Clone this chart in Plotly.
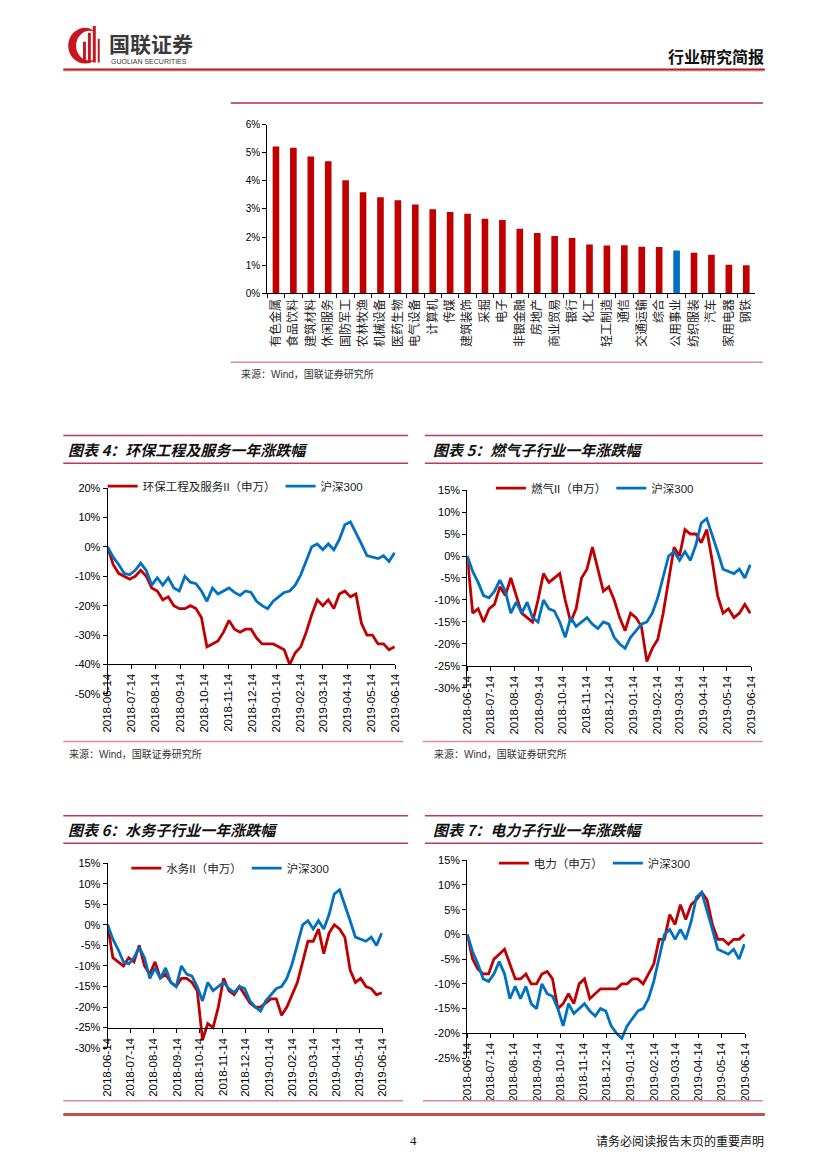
import plotly.graph_objects as go
import pandas as pd

# page is 827x1169; the browser body adds an 8px margin, so the figure is drawn
# 8px smaller and all page positions are shifted by that offset
OFF = 8
W, H = 827 - OFF, 1169 - OFF
def X(p): return (p - OFF) / W
def Y(p): return 1 - (p - OFF) / H

# ---------------- data ----------------
industries = ["有色金属", "食品饮料", "建筑材料", "休闲服务", "国防军工", "农林牧渔", "机械设备",
              "医药生物", "电气设备", "计算机", "传媒", "建筑装饰", "采掘", "电子", "非银金融",
              "房地产", "商业贸易", "银行", "化工", "轻工制造", "通信", "交通运输", "综合",
              "公用事业", "纺织服装", "汽车", "家用电器", "钢铁"]
industry_returns = [5.23, 5.18, 4.87, 4.70, 4.02, 3.60, 3.42, 3.31, 3.16, 2.99, 2.89, 2.83, 2.65,
                    2.61, 2.29, 2.14, 2.04, 1.96, 1.73, 1.70, 1.71, 1.65, 1.64, 1.52, 1.44, 1.37,
                    1.01, 0.99]
highlight = "公用事业"
bar_ticks = [0, 1, 2, 3, 4, 5, 6]

dates = pd.date_range("2018-06-14", periods=53, freq="7D")
month_ticks = ["2018-06-14", "2018-07-14", "2018-08-14", "2018-09-14", "2018-10-14",
               "2018-11-14", "2018-12-14", "2019-01-14", "2019-02-14", "2019-03-14",
               "2019-04-14", "2019-05-14", "2019-06-14"]

hs300 = [0, -3.5, -6, -9, -9.5, -8, -5.5, -8, -13, -10.5,
         -13, -10.5, -14, -15, -10, -12, -12.5, -15, -18.5, -14,
         -16, -15, -14, -15.5, -16.5, -15, -15.5, -18.5, -20, -21,
         -18.5, -17, -15.5, -15, -13, -9.5, -4.5, 0, 1, -1,
         1, -1, 2.5, 7.5, 8.5, 5, 1, -3, -3.5, -4,
         -3, -5, -2]
env_service = [0, -6, -9, -10, -11, -10, -8, -10, -14, -15,
               -18, -17, -20, -21, -21, -20, -21, -24, -34, -33,
               -32, -29, -25, -28, -29, -28, -28, -31, -33, -33,
               -33, -34, -35, -40, -36, -34, -29, -23, -18, -20,
               -18, -21, -16, -15, -17, -16, -26, -30, -30, -33,
               -33, -35, -34]
gas = [0, -13, -12, -15, -12, -11, -7, -9, -5, -9,
       -13, -14, -15, -10, -4, -6, -5, -4, -10, -15,
       -12, -5, -3, 2, -3, -8, -7, -10, -14, -17,
       -13, -14, -16, -24, -21, -19, -13, -5, 2, 0,
       6, 5, 5, 3, 6, -1, -9, -13, -12, -14,
       -13, -11, -13]
water = [0, -8, -9, -10, -8, -9, -5, -10, -12, -9,
         -13, -12, -14, -15, -13, -13, -14, -16, -28, -24,
         -25, -20, -13, -16, -17, -15, -17, -19, -20, -20,
         -19, -18, -18, -22, -20, -17, -14, -9, -4, -4,
         -1, -7, -2, 0, -1, -3, -11, -14, -13, -15,
         -15.5, -17, -16.5]
power = [0, -5, -7, -8, -8, -5, -4, -3, -6, -9,
         -9, -8, -10, -10, -8, -7.5, -9, -15, -14, -12,
         -14, -10, -9, -13, -12, -11, -11, -11, -11, -10,
         -10, -9, -9, -10, -8, -6, -1, -1, 4, 2,
         6, 3, 6, 7, 8.5, 7, 2, -1, -1, -2,
         -1, -1, 0]

panels = [
    ("图表 4：环保工程及服务一年涨跌幅", "环保工程及服务II（申万）", env_service, [-50, -40, -30, -20, -10, 0, 10, 20]),
    ("图表 5：燃气子行业一年涨跌幅", "燃气II（申万）", gas, [-30, -25, -20, -15, -10, -5, 0, 5, 10, 15]),
    ("图表 6：水务子行业一年涨跌幅", "水务II（申万）", water, [-30, -25, -20, -15, -10, -5, 0, 5, 10, 15]),
    ("图表 7：电力子行业一年涨跌幅", "电力（申万）", power, [-25, -20, -15, -10, -5, 0, 5, 10, 15]),
]
hs_name = "沪深300"

# ---------------- styles / geometry ----------------
RED = "#C00000"
BLUE = "#0070C0"
FONT = "Liberation Sans, Arial, Noto Sans CJK SC"
CJK = "Noto Sans CJK SC"
TITLE_LINE = "#B83B5E"
SRC_LINE = "#D98A9C"

geo = [
    dict(x0=103, x1=395, yt=487, yb=695, cross=665, lx=98, ly=485),
    dict(x0=468, x1=756, yt=489, yb=689, cross=667, lx=492, ly=487),
    dict(x0=103, x1=382, yt=866, yb=1053, cross=1033, lx=122, ly=871),
    dict(x0=468, x1=750, yt=863, yb=1063, cross=1038, lx=495, ly=866),
]
title_geo = [
    dict(x0=58, x1=408, ytop=434, ybot=462, tx=61),
    dict(x0=425, x1=768, ytop=434, ybot=462, tx=431),
    dict(x0=58, x1=408, ytop=818, ybot=846, tx=61),
    dict(x0=425, x1=768, ytop=818, ybot=846, tx=431),
]

fig = go.Figure()

# ---------------- bar chart ----------------
bar_colors = [BLUE if n == highlight else RED for n in industries]
fig.add_trace(go.Bar(x=industries, y=industry_returns, marker_color=bar_colors,
                     marker_line_width=0, xaxis="x", yaxis="y", showlegend=False))

layout = dict(
    width=W, height=H, autosize=False,
    margin=dict(l=0, r=0, t=0, b=0),
    paper_bgcolor="white", plot_bgcolor="rgba(0,0,0,0)",
    bargap=0.62,
    font=dict(family=FONT, color="black", size=11),
    xaxis=dict(domain=[X(265), X(760)], anchor="y", type="category",
               tickmode="array", tickvals=industries, ticktext=industries,
               tickangle=-90, tickfont=dict(family=CJK, size=12, color="#222"),
               showline=True, linecolor="black", linewidth=1,
               ticks="outside", ticklen=4, tickcolor="black", tickson="boundaries",
               showgrid=False, fixedrange=True),
    yaxis=dict(domain=[Y(290), Y(120)], anchor="x", range=[0, 6],
               tickmode="array", tickvals=bar_ticks, ticktext=[f"{v}%" for v in bar_ticks],
               tickfont=dict(size=10), showline=True, linecolor="black", linewidth=1,
               ticks="outside", ticklen=4, tickcolor="black",
               showgrid=False, zeroline=False),
)

annotations = []
shapes = []

for i, ((title, name, vals, yt), g, tg) in enumerate(zip(panels, geo, title_geo)):
    n = i + 2
    xa, ya = f"x{n}", f"y{n}"
    leg = "legend" if i == 0 else f"legend{i + 1}"
    fig.add_trace(go.Scatter(x=dates, y=vals, mode="lines", name=name,
                             line=dict(color=RED, width=2.8),
                             xaxis=xa, yaxis=ya, legend=leg))
    fig.add_trace(go.Scatter(x=dates, y=hs300, mode="lines", name=hs_name,
                             line=dict(color=BLUE, width=2.8),
                             xaxis=xa, yaxis=ya, legend=leg))
    layout[f"xaxis{n}"] = dict(
        domain=[X(g["x0"]), X(g["x1"])], anchor="free", position=Y(g["cross"]),
        type="date", range=[month_ticks[0], month_ticks[-1]],
        tickmode="array", tickvals=month_ticks, ticktext=month_ticks,
        tickangle=-90, tickfont=dict(size=11.5),
        showline=True, linecolor="black", linewidth=1,
        ticks="outside", ticklen=4, tickcolor="black", showgrid=False, zeroline=False)
    layout[f"yaxis{n}"] = dict(
        domain=[Y(g["yb"]), Y(g["yt"])], anchor=xa, range=[yt[0], yt[-1]],
        tickmode="array", tickvals=yt, ticktext=[f"{v}%" for v in yt],
        tickfont=dict(size=11), showline=True, linecolor="black", linewidth=1,
        ticks="outside", ticklen=4, tickcolor="black", showgrid=False, zeroline=False)
    layout[leg] = dict(orientation="h", x=X(g["lx"]), y=Y(g["ly"]),
                       xanchor="left", yanchor="middle", bgcolor="rgba(0,0,0,0)",
                       font=dict(family=FONT, size=11.5, color="#222"),
                       itemwidth=30, tracegroupgap=0)
    shapes.append(dict(type="line", xref="paper", yref="paper",
                       x0=X(tg["x0"]), x1=X(tg["x1"]), y0=Y(tg["ytop"]), y1=Y(tg["ytop"]),
                       line=dict(color=TITLE_LINE, width=1.5)))
    shapes.append(dict(type="line", xref="paper", yref="paper",
                       x0=X(tg["x0"]), x1=X(tg["x1"]), y0=Y(tg["ybot"]), y1=Y(tg["ybot"]),
                       line=dict(color=TITLE_LINE, width=1.5)))
    annotations.append(dict(text=f"<b><i>{title}</i></b>", xref="paper", yref="paper",
                            x=X(tg["tx"]), y=Y((tg["ytop"] + tg["ybot"]) / 2),
                            xanchor="left", yanchor="middle", showarrow=False,
                            font=dict(family=CJK, size=15, color="#111")))

src = "来源：Wind，国联证券研究所"
for (x0, x1, yl, tx, ty) in [(228, 768, 360, 236, 372), (58, 403, 743, 62, 756),
                             (423, 768, 743, 432, 756)]:
    shapes.append(dict(type="line", xref="paper", yref="paper", x0=X(x0), x1=X(x1),
                       y0=Y(yl), y1=Y(yl), line=dict(color=SRC_LINE, width=1.5)))
    annotations.append(dict(text=src, xref="paper", yref="paper", x=X(tx), y=Y(ty),
                            xanchor="left", yanchor="middle", showarrow=False,
                            font=dict(family=FONT, size=10, color="#333")))
for (x0, x1) in [(58, 403), (423, 768)]:
    shapes.append(dict(type="line", xref="paper", yref="paper", x0=X(x0), x1=X(x1),
                       y0=Y(1106), y1=Y(1106), line=dict(color=SRC_LINE, width=1.5)))

shapes.append(dict(type="line", xref="paper", yref="paper", x0=X(228), x1=X(768),
                   y0=Y(98), y1=Y(98), line=dict(color="#B5284A", width=1.5)))

shapes.append(dict(type="line", xref="paper", yref="paper", x0=X(58), x1=X(770),
                   y0=Y(65.5), y1=Y(65.5), line=dict(color="#D0D0D0", width=1.5)))
shapes.append(dict(type="line", xref="paper", yref="paper", x0=X(58), x1=X(770),
                   y0=Y(64), y1=Y(64), line=dict(color="#C4161C", width=2)))
shapes.append(dict(type="line", xref="paper", yref="paper", x0=X(58), x1=X(770),
                   y0=Y(1120), y1=Y(1120), line=dict(color="#C0504D", width=3)))

# logo emblem
shapes.append(dict(type="circle", xref="paper", yref="paper", x0=X(63), x1=X(97),
                   y0=Y(58), y1=Y(22), fillcolor="#C8161E", line=dict(width=0)))
shapes.append(dict(type="circle", xref="paper", yref="paper", x0=X(71), x1=X(99),
                   y0=Y(55), y1=Y(25), fillcolor="white", line=dict(width=0)))
for (bx0, bx1, by0) in [(78, 81, 36), (83, 86, 27), (88, 91, 20), (93, 95, 33)]:
    shapes.append(dict(type="rect", xref="paper", yref="paper", x0=X(bx0), x1=X(bx1),
                       y0=Y(57), y1=Y(by0), fillcolor="#C8161E", line=dict(width=0)))

annotations += [
    dict(text="<b>国联证券</b>", xref="paper", yref="paper", x=X(102), y=Y(37),
         xanchor="left", yanchor="middle", showarrow=False,
         font=dict(family=CJK, size=21, color="#3A3A3A")),
    dict(text="GUOLIAN SECURITIES", xref="paper", yref="paper", x=X(104), y=Y(56),
         xanchor="left", yanchor="middle", showarrow=False,
         font=dict(family=FONT, size=7, color="#3A3A3A")),
    dict(text="<b>行业研究简报</b>", xref="paper", yref="paper", x=X(771), y=Y(50),
         xanchor="right", yanchor="middle", showarrow=False,
         font=dict(family=CJK, size=16, color="#111")),
    dict(text="4", xref="paper", yref="paper", x=X(413), y=Y(1146),
         xanchor="center", yanchor="middle", showarrow=False,
         font=dict(family="Liberation Serif", size=13, color="#111")),
    dict(text="请务必阅读报告末页的重要声明", xref="paper", yref="paper", x=X(771), y=Y(1146),
         xanchor="right", yanchor="middle", showarrow=False,
         font=dict(family=CJK, size=12, color="#111")),
]

layout["shapes"] = shapes
layout["annotations"] = annotations
fig.update_layout(**layout)
fig.write_html("out.html")
